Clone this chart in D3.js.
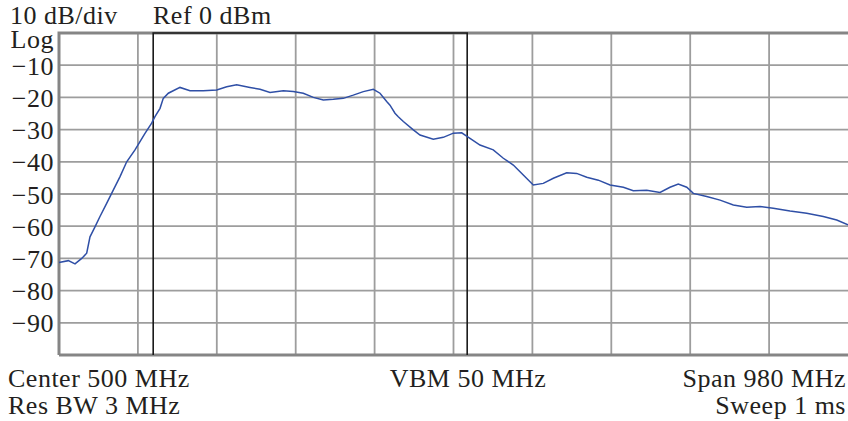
<!DOCTYPE html>
<html>
<head>
<meta charset="utf-8">
<script src="https://cdn.jsdelivr.net/npm/d3@7"></script>
<style>
  body { margin: 0; background: #fff; }
  text { font-family: "Liberation Serif", "DejaVu Serif", serif; fill: #231f20; letter-spacing: 0.5px; }
</style>
</head>
<body>
<svg id="chart" width="848" height="421"></svg>
<script>
// trace: frequency (MHz) and level (dBm)
let freqs = [10, 21.6, 29.9, 38.2, 44.4, 48.5, 54.7, 60.9, 69.2, 77.4, 85.8, 94.1, 104.4, 116.8, 125.1, 129.2,
  135.5, 139.5, 145.8, 160.3, 172.7, 189.2, 205.9, 218.3, 230.7, 247.2, 259.7, 272.1, 288.6, 301, 313.4,
  325.9, 338.3, 350.7, 363.1, 375.5, 388, 400.4, 408.7, 417, 421.1, 427.3, 431.4, 437.7, 450.1, 458.4,
  474.9, 487.3, 499.8, 510.2, 520.5, 532.9, 549.4, 561.9, 574.3, 586.7, 599.1, 611.5, 624, 640.6, 653,
  665.5, 679.9, 694.4, 711, 723.3, 740, 756.5, 768.9, 779.2, 789.7, 797.9, 814.5, 831.1, 847.6, 864.2,
  880.8, 897.2, 918, 938.7, 959.3, 976, 990]
let levels = [-71.3, -70.7, -71.7, -70, -68.4, -63.3, -60.2, -57, -52.9, -48.8, -44.6, -40, -36.3, -31.2, -28, -26,
  -23.4, -20.3, -18.7, -16.9, -17.9, -17.9, -17.7, -16.7, -16.1, -16.9, -17.5, -18.5, -17.9, -18.2, -18.7,
  -20, -20.8, -20.6, -20.3, -19.3, -18.2, -17.5, -18.7, -21.3, -22.4, -24.9, -26, -27.5, -30.1, -31.7,
  -33, -32.4, -31.1, -31, -32.7, -34.8, -36.3, -38.9, -41, -44.1, -47.2, -46.7, -45.1, -43.4, -43.6,
  -44.8, -45.7, -47.2, -47.9, -49, -48.8, -49.5, -47.9, -46.9, -47.9, -49.8, -50.8, -51.9, -53.4, -54.1,
  -53.9, -54.4, -55.3, -56, -57, -58.1, -59.6]

let yTicks = [-10, -20, -30, -40, -50, -60, -70, -80, -90]
let markers = [127, 517]   // the two black vertical lines
let topLabels = ["10 dB/div", "Ref 0 dBm"]
let bottomLeft = ["Center 500 MHz", "Res BW 3 MHz"]
let bottomMid = "VBM 50 MHz"
let bottomRight = ["Span 980 MHz", "Sweep 1 ms"]

let svg = d3.select("#chart")
let plotL = 59, plotR = 848, plotT = 33, plotB = 355

let x = d3.scaleLinear().domain([10, 990]).range([plotL, plotR])
let y = d3.scaleLinear().domain([-100, 0]).range([plotB, plotT])

// grid
let grid = svg.append("g")
grid.selectAll(".vg")
    .data(d3.range(1, 10).map(i => 10 + i * 98))
    .enter().append("line")
    .attr("x1", d => x(d)).attr("x2", d => x(d))
    .attr("y1", plotT).attr("y2", plotB)
    .attr("stroke", "#9d9d9d").attr("stroke-width", 1.8)
grid.selectAll(".hg")
    .data(yTicks)
    .enter().append("line")
    .attr("x1", plotL).attr("x2", plotR)
    .attr("y1", d => y(d)).attr("y2", d => y(d))
    .attr("stroke", "#9d9d9d").attr("stroke-width", 1.8)

// frame (left, top, bottom)
svg.append("path")
   .attr("d", `M${plotL},${plotB} L${plotL},${plotT} L${plotR},${plotT} M${plotL},${plotB} L${plotR},${plotB}`)
   .attr("fill", "none").attr("stroke", "#858585").attr("stroke-width", 3)

// marker bracket
svg.append("path")
   .attr("d", `M${x(markers[0])},${plotB} L${x(markers[0])},${plotT} L${x(markers[1])},${plotT} L${x(markers[1])},${plotB}`)
   .attr("fill", "none").attr("stroke", "#1a1a1a").attr("stroke-width", 1.6)

// trace
let line = d3.line().x((d, i) => x(freqs[i])).y(d => y(d))
svg.append("path")
   .datum(levels)
   .attr("d", line)
   .attr("fill", "none")
   .attr("stroke", "#2f4fa6")
   .attr("stroke-width", 1.5)

// y tick labels
svg.selectAll(".ytl")
   .data(yTicks)
   .enter().append("text")
   .attr("x", 54).attr("y", d => y(d) + 9.5)
   .attr("text-anchor", "end")
   .attr("font-size", 26)
   .text(d => "\u2212" + Math.abs(d))

svg.append("text").attr("x", 54).attr("y", 48).attr("text-anchor", "end")
   .attr("font-size", 26).text("Log")

svg.append("text").attr("x", 10).attr("y", 24).attr("font-size", 26).text(topLabels[0])
svg.append("text").attr("x", 153).attr("y", 24).attr("font-size", 26).text(topLabels[1])

svg.selectAll(".bl").data(bottomLeft).enter().append("text")
   .attr("x", 8).attr("y", (d, i) => 387 + i * 27).attr("font-size", 26).text(d => d)
svg.append("text").attr("x", 468).attr("y", 387).attr("text-anchor", "middle")
   .attr("font-size", 26).text(bottomMid)
svg.selectAll(".br").data(bottomRight).enter().append("text")
   .attr("x", 846).attr("y", (d, i) => 387 + i * 27).attr("text-anchor", "end")
   .attr("font-size", 26).text(d => d)
</script>
</body>
</html>
